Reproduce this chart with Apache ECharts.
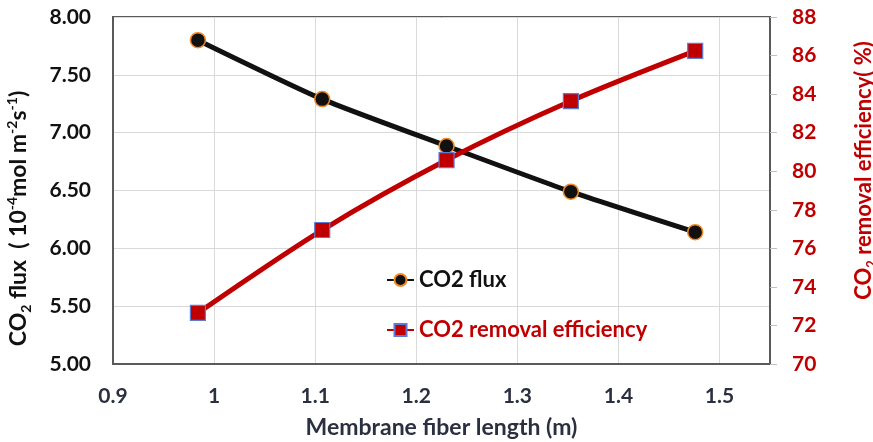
<!DOCTYPE html>
<html><head><meta charset="utf-8">
<script src="https://cdn.jsdelivr.net/npm/echarts@6/dist/echarts.min.js"></script>
<style>html,body{margin:0;padding:0;background:#fff}#c{width:873px;height:442px}</style>
</head><body><div id="c"></div>
<script>
const fiberLength = [0.984, 1.107, 1.230, 1.353, 1.476];
const co2Flux = [7.80, 7.29, 6.885, 6.49, 6.14];
const removalEff = [72.65, 76.95, 80.58, 83.64, 86.24];
const fluxName = 'CO2 flux';
const effName = 'CO2 removal efficiency';

const F = 'Lato, "Open Sans", sans-serif';
const chart = echarts.init(document.getElementById('c'));
chart.setOption({
  animation: false,
  backgroundColor: '#fff',
  grid: {left: 113, right: 103, top: 17, bottom: 78, outerBoundsMode: 'none', containLabel: false,
    show: true, borderColor: '#5a5a5a', borderWidth: 2, backgroundColor: 'transparent'},
  legend: {
    orient: 'vertical', left: 381, top: 264, itemGap: 28, itemWidth: 27, itemHeight: 15,
    textStyle: {fontFamily: F, fontWeight: 'bold', fontSize: 22},
    data: [
      {name: fluxName, textStyle: {color: '#111'}},
      {name: effName, textStyle: {color: '#c00000'}}
    ]
  },
  xAxis: {
    type: 'value', min: 0.9, max: 1.55, interval: 0.1,
    name: 'Membrane fiber length (m)', nameLocation: 'middle', nameGap: 52,
    nameTextStyle: {fontFamily: F, fontWeight: 'bold', fontSize: 23, color: '#2b3040'},
    axisLine: {show: true, lineStyle: {color: '#5a5a5a', width: 2}},
    axisTick: {show: false},
    axisLabel: {fontFamily: F, fontWeight: 'bold', fontSize: 21, color: '#2b3040', margin: 22, showMaxLabel: false,
      formatter: v => String(Math.round(v * 10) / 10)},
    splitLine: {show: true, lineStyle: {color: '#d9d9d9', width: 1}}
  },
  yAxis: [
    {
      type: 'value', min: 5, max: 8, interval: 0.5,
      name: '{n|CO}{s|2}{n| flux  ( 10}{p|-4}{n|mol m}{p|-2}{n|s}{p|-1}{n|)}',
      nameLocation: 'middle', nameGap: 80, nameRotate: 90,
      nameTextStyle: {
        fontFamily: F, fontWeight: 'bold', fontSize: 23, color: '#111', padding: [0, 56, 0, 0],
        rich: {
          n: {fontFamily: F, fontWeight: 'bold', fontSize: 23, color: '#111', lineHeight: 28, verticalAlign: 'middle'},
          s: {fontFamily: F, fontWeight: 'bold', fontSize: 14, color: '#111', lineHeight: 28, verticalAlign: 'bottom'},
          p: {fontFamily: F, fontWeight: 'bold', fontSize: 14, color: '#111', lineHeight: 28, verticalAlign: 'top'}
        }
      },
      axisLine: {show: true, lineStyle: {color: '#5a5a5a', width: 2}},
      axisTick: {show: false},
      axisLabel: {fontFamily: F, fontWeight: 'bold', fontSize: 21, color: '#111', margin: 22, formatter: v => v.toFixed(2)},
      splitLine: {show: true, lineStyle: {color: '#d9d9d9', width: 1}}
    },
    {
      type: 'value', min: 70, max: 88, interval: 2, position: 'right',
      name: '{n|CO}{s|2}{n| removal efficiency( %)}',
      nameLocation: 'middle', nameGap: 80, nameRotate: 90,
      nameTextStyle: {
        fontFamily: F, fontWeight: 'bold', fontSize: 22, color: '#c00000', padding: [0, 0, 0, 40],
        rich: {
          n: {fontFamily: F, fontWeight: 'bold', fontSize: 22, color: '#c00000', lineHeight: 28, verticalAlign: 'middle'},
          s: {fontFamily: F, fontWeight: 'bold', fontSize: 13, color: '#c00000', lineHeight: 28, verticalAlign: 'bottom'}
        }
      },
      axisLine: {show: true, lineStyle: {color: '#5a5a5a', width: 2}},
      axisTick: {show: true, length: 7, lineStyle: {color: '#bfbfbf'}},
      axisLabel: {fontFamily: F, fontWeight: 'bold', fontSize: 21, color: '#c00000', margin: 22},
      splitLine: {show: false}
    }
  ],
  series: [
    {
      name: fluxName, type: 'line', yAxisIndex: 0, smooth: 0.2,
      data: fiberLength.map((x, i) => [x, co2Flux[i]]),
      symbol: 'circle', symbolSize: 15,
      lineStyle: {color: '#111', width: 5},
      itemStyle: {color: '#111', borderColor: '#f08a24', borderWidth: 1.5},
      z: 3
    },
    {
      name: effName, type: 'line', yAxisIndex: 1, smooth: 0.3,
      data: fiberLength.map((x, i) => [x, removalEff[i]]),
      symbol: 'rect', symbolSize: 15,
      lineStyle: {color: '#c00000', width: 5},
      itemStyle: {color: '#c00000', borderColor: '#5b7bd5', borderWidth: 1.2},
      z: 4
    }
  ]
});
</script></body></html>
